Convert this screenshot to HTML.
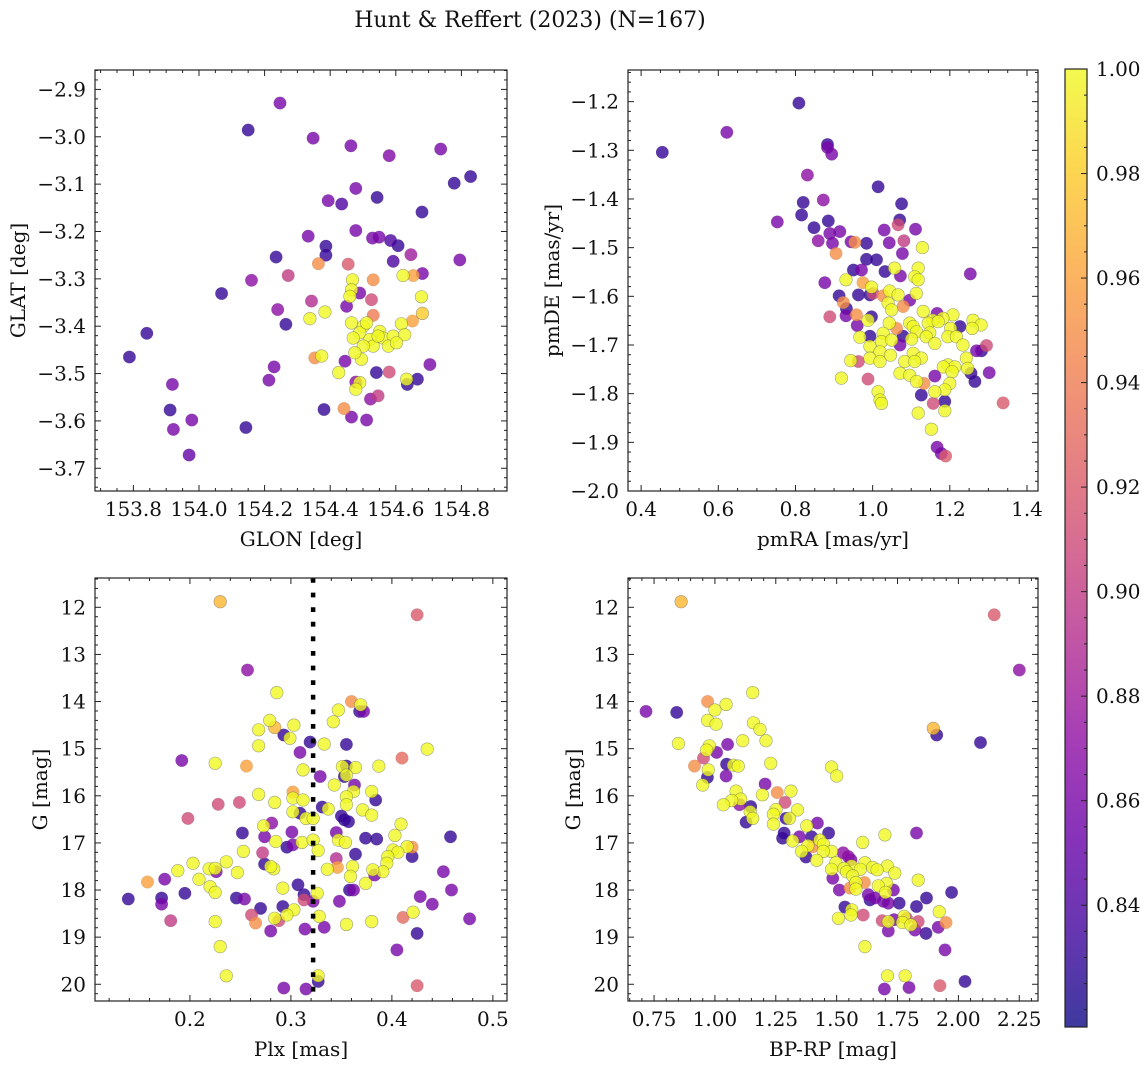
<!DOCTYPE html>
<html><head><meta charset="utf-8"><title>Hunt & Reffert (2023)</title>
<style>
html,body{margin:0;padding:0;background:#fff;}
svg{display:block;font-family:"DejaVu Serif","Liberation Serif",serif;}
</style></head>
<body>
<svg id="fig" width="1148" height="1068" viewBox="0 0 1148 1068" xmlns="http://www.w3.org/2000/svg">
<rect width="1148" height="1068" fill="#fff"/>
<text x="530" y="27" font-size="22" text-anchor="middle" fill="#111">Hunt &amp; Reffert (2023) (N=167)</text>
<defs>
<linearGradient id="plasmaGrad" x1="0" y1="1" x2="0" y2="0">
<stop offset="0" stop-color="#0d0887"/><stop offset="0.1" stop-color="#41049d"/><stop offset="0.2" stop-color="#6a00a8"/><stop offset="0.3" stop-color="#8f0da4"/><stop offset="0.4" stop-color="#b12a90"/><stop offset="0.5" stop-color="#cc4778"/><stop offset="0.6" stop-color="#e16462"/><stop offset="0.7" stop-color="#f2844b"/><stop offset="0.8" stop-color="#fca636"/><stop offset="0.9" stop-color="#fcce25"/><stop offset="1" stop-color="#f0f921"/>
</linearGradient>
</defs>
</svg>
<script>
// ---------- Panel 1: GLON / GLAT ----------
const p1Glon = [154.247,154.150,154.348,154.463,154.580,154.737,154.778,154.828,154.478,154.394,154.435,154.543,154.680,154.333,154.478,154.529,154.549,154.584,154.607,154.387,154.387,154.235,154.646,154.592,154.795,154.364,154.455,154.272,154.160,154.622,154.653,154.681,154.531,154.468,154.465,154.069,154.490,154.460,154.678,154.343,154.526,154.240,154.384,154.450,154.338,154.681,154.651,154.531,154.265,154.617,154.465,154.501,154.490,154.470,154.521,154.551,154.561,154.592,154.627,154.577,154.602,154.531,154.501,154.495,154.475,154.511,154.546,153.841,153.788,154.704,154.229,154.353,154.374,154.445,154.426,154.541,154.580,154.213,154.633,154.635,154.666,154.478,154.490,154.478,153.919,154.523,154.546,153.912,154.381,154.442,153.978,153.922,154.465,154.511,154.143,153.970];
const p1Glat = [-2.929,-2.986,-3.003,-3.019,-3.040,-3.026,-3.098,-3.084,-3.109,-3.135,-3.142,-3.128,-3.159,-3.210,-3.198,-3.214,-3.212,-3.219,-3.230,-3.231,-3.250,-3.254,-3.249,-3.263,-3.260,-3.268,-3.269,-3.293,-3.303,-3.293,-3.293,-3.289,-3.302,-3.302,-3.323,-3.331,-3.330,-3.337,-3.338,-3.347,-3.344,-3.365,-3.370,-3.358,-3.384,-3.373,-3.389,-3.377,-3.396,-3.395,-3.393,-3.400,-3.414,-3.425,-3.428,-3.411,-3.425,-3.421,-3.418,-3.442,-3.435,-3.442,-3.442,-3.470,-3.456,-3.393,-3.421,-3.415,-3.465,-3.481,-3.486,-3.467,-3.463,-3.474,-3.498,-3.498,-3.497,-3.514,-3.512,-3.523,-3.512,-3.518,-3.519,-3.533,-3.523,-3.554,-3.547,-3.577,-3.576,-3.574,-3.598,-3.618,-3.592,-3.598,-3.614,-3.672];
const p1Prob = [0.86,0.83,0.86,0.86,0.865,0.86,0.83,0.83,0.86,0.86,0.84,0.83,0.83,0.86,0.86,0.86,0.86,0.84,0.83,0.83,0.83,0.83,0.88,0.84,0.86,0.95,0.92,0.90,0.87,1,0.96,0.86,0.95,1,1,0.83,0.86,1,1,0.89,0.91,0.87,1,0.86,1,0.98,0.96,0.94,0.83,1,1,1,1,1,1,1,1,1,1,1,1,1,1,1,1,1,1,0.83,0.83,0.86,0.86,0.95,1,0.86,1,0.83,0.91,0.86,1,0.83,0.83,0.87,1,1,0.86,0.87,0.90,0.83,0.83,0.95,0.86,0.86,0.86,0.86,0.83,0.85];
const p1XTicks = [153.8,154.0,154.2,154.4,154.6,154.8];
const p1YTicks = [-2.9,-3.0,-3.1,-3.2,-3.3,-3.4,-3.5,-3.6,-3.7];

// ---------- Panel 2: pmRA / pmDE ----------
const p2Pmra = [0.455,0.622,0.809,0.883,0.883,0.894,0.831,1.014,0.872,0.820,1.075,0.816,0.753,0.885,1.070,1.066,0.848,1.030,1.111,0.915,0.889,0.859,1.081,1.043,0.944,0.954,0.896,0.984,1.077,0.905,1.129,0.984,1.010,0.950,0.971,1.032,1.057,1.118,1.072,1.253,0.876,0.931,0.975,1.109,1.118,0.997,0.913,0.963,0.993,1.001,1.027,1.044,1.066,1.096,1.113,0.924,0.932,1.040,1.079,1.131,0.931,0.889,0.958,0.997,1.049,1.167,1.208,1.182,1.156,0.988,1.043,1.096,1.144,1.170,1.226,1.202,1.260,1.281,1.258,0.960,1.062,1.105,1.114,1.148,1.195,1.217,0.967,0.993,1.027,1.079,1.139,1.161,1.234,1.023,1.049,1.071,1.101,1.269,1.282,1.295,0.993,1.019,1.046,1.105,1.126,0.993,1.019,1.243,0.943,0.963,1.083,1.109,1.195,1.213,1.183,1.246,1.255,1.302,1.206,1.071,1.096,1.265,1.161,0.919,0.988,1.114,1.133,1.200,1.187,1.161,1.014,1.019,1.023,1.126,1.187,1.157,1.338,1.118,1.187,1.152,1.167,1.178,1.189];
const p2Pmde = [-1.304,-1.263,-1.203,-1.288,-1.294,-1.308,-1.351,-1.375,-1.402,-1.407,-1.410,-1.433,-1.447,-1.445,-1.443,-1.453,-1.459,-1.464,-1.462,-1.467,-1.471,-1.486,-1.486,-1.490,-1.488,-1.489,-1.491,-1.491,-1.512,-1.512,-1.500,-1.524,-1.525,-1.546,-1.546,-1.549,-1.542,-1.542,-1.558,-1.554,-1.572,-1.566,-1.572,-1.560,-1.566,-1.581,-1.599,-1.597,-1.597,-1.594,-1.599,-1.589,-1.597,-1.608,-1.594,-1.613,-1.625,-1.614,-1.621,-1.631,-1.640,-1.642,-1.638,-1.642,-1.628,-1.635,-1.638,-1.645,-1.649,-1.649,-1.655,-1.655,-1.655,-1.652,-1.662,-1.666,-1.649,-1.659,-1.666,-1.660,-1.666,-1.662,-1.673,-1.675,-1.683,-1.683,-1.684,-1.682,-1.676,-1.682,-1.683,-1.697,-1.700,-1.693,-1.690,-1.700,-1.688,-1.712,-1.712,-1.701,-1.703,-1.714,-1.721,-1.717,-1.727,-1.727,-1.734,-1.727,-1.732,-1.734,-1.734,-1.734,-1.741,-1.745,-1.745,-1.748,-1.758,-1.757,-1.755,-1.758,-1.762,-1.775,-1.764,-1.768,-1.770,-1.775,-1.779,-1.779,-1.792,-1.796,-1.796,-1.813,-1.820,-1.803,-1.816,-1.820,-1.819,-1.840,-1.835,-1.873,-1.910,-1.923,-1.928];
const p2Prob = [0.83,0.86,0.83,0.83,0.86,0.86,0.87,0.83,0.87,0.83,0.83,0.83,0.86,0.83,0.83,0.91,0.83,0.86,0.86,0.86,0.86,0.87,0.90,0.86,0.86,0.95,0.86,0.83,0.86,0.95,1,0.83,0.83,0.83,0.86,0.83,1,1,0.86,0.86,0.86,1,0.96,1,1,1,0.83,0.83,0.83,0.91,0.95,1,1,0.86,1,0.95,0.83,1,0.95,1,0.86,0.91,0.95,0.83,1,0.86,1,1,1,1,1,1,1,1,0.83,1,1,1,1,0.86,0.95,1,1,1,1,1,1,0.83,1,0.83,1,1,1,1,1,0.86,1,0.86,0.83,0.91,1,1,1,1,1,1,1,1,1,0.91,1,1,1,1,1,1,0.83,0.86,1,1,1,0.83,0.86,1,0.91,1,0.95,1,1,1,1,1,1,0.83,0.83,0.91,0.92,1,1,1,0.86,0.86,0.92];
const p2XTicks = [0.4,0.6,0.8,1.0,1.2,1.4];
const p2YTicks = [-1.2,-1.3,-1.4,-1.5,-1.6,-1.7,-1.8,-1.9,-2.0];

// ---------- Panel 3: Plx / G ----------
const p3Plx = [0.230,0.425,0.257,0.286,0.360,0.369,0.368,0.372,0.347,0.279,0.284,0.342,0.268,0.303,0.293,0.299,0.268,0.319,0.333,0.355,0.309,0.435,0.192,0.225,0.410,0.256,0.312,0.355,0.351,0.364,0.387,0.329,0.353,0.355,0.363,0.343,0.362,0.380,0.302,0.268,0.302,0.312,0.384,0.355,0.355,0.228,0.249,0.284,0.331,0.337,0.371,0.380,0.302,0.309,0.315,0.322,0.350,0.353,0.357,0.198,0.281,0.273,0.409,0.252,0.345,0.301,0.274,0.403,0.458,0.374,0.385,0.285,0.311,0.322,0.347,0.354,0.296,0.302,0.420,0.415,0.401,0.406,0.253,0.327,0.272,0.364,0.420,0.345,0.396,0.203,0.236,0.274,0.395,0.361,0.346,0.336,0.283,0.280,0.188,0.219,0.225,0.226,0.247,0.391,0.381,0.383,0.359,0.451,0.209,0.175,0.158,0.374,0.307,0.220,0.292,0.362,0.358,0.459,0.195,0.225,0.313,0.326,0.139,0.172,0.172,0.246,0.254,0.313,0.322,0.348,0.428,0.440,0.292,0.303,0.270,0.421,0.261,0.296,0.328,0.411,0.477,0.284,0.288,0.265,0.181,0.225,0.355,0.380,0.333,0.314,0.280,0.425,0.230,0.405,0.236,0.327,0.327,0.293,0.315,0.425];
const p3G = [11.88,12.16,13.33,13.81,14.00,14.07,14.21,14.21,14.18,14.40,14.55,14.43,14.60,14.50,14.71,14.78,14.94,14.86,14.90,14.91,15.08,15.01,15.25,15.31,15.20,15.37,15.45,15.37,15.38,15.40,15.37,15.59,15.59,15.56,15.77,15.77,15.91,15.91,15.92,15.97,16.05,16.09,16.09,16.02,16.19,16.18,16.14,16.14,16.24,16.28,16.30,16.41,16.34,16.37,16.48,16.48,16.43,16.51,16.55,16.48,16.58,16.64,16.60,16.79,16.78,16.77,16.87,16.84,16.87,16.90,16.92,16.97,16.99,16.94,16.94,16.99,17.09,17.04,17.09,17.08,17.15,17.20,17.18,17.16,17.21,17.24,17.29,17.33,17.29,17.43,17.40,17.45,17.43,17.50,17.52,17.56,17.55,17.50,17.59,17.55,17.54,17.61,17.63,17.61,17.57,17.68,17.71,17.61,17.77,17.77,17.83,17.86,17.89,17.93,17.96,18.00,18.00,18.00,18.07,18.05,18.10,18.07,18.19,18.17,18.30,18.17,18.19,18.21,18.24,18.24,18.14,18.30,18.35,18.42,18.39,18.47,18.53,18.53,18.56,18.58,18.61,18.60,18.65,18.70,18.65,18.67,18.73,18.67,18.79,18.83,18.87,18.92,19.20,19.27,19.82,19.82,19.94,20.08,20.10,20.03];
const p3Prob = [0.97,0.92,0.87,1,0.95,1,0.83,0.86,1,1,0.97,1,1,1,0.83,1,1,0.83,1,0.83,0.86,1,0.86,1,0.93,0.96,1,0.83,1,1,1,0.86,0.83,1,0.86,1,1,1,0.96,1,1,1,0.83,1,1,0.91,0.91,1,0.83,1,1,1,1,0.83,1,1,0.83,0.83,0.83,0.91,0.87,1,1,0.83,0.86,0.86,0.86,1,0.83,0.83,0.83,1,1,1,1,1,0.83,0.86,0.95,1,1,1,1,1,0.90,0.83,0.83,0.89,1,1,1,0.83,1,1,0.96,1,1,1,1,1,1,0.86,1,1,1,0.86,1,0.86,1,0.86,0.96,1,0.83,1,1,0.86,0.83,0.86,0.83,1,0.83,1,0.83,0.83,0.86,0.83,0.86,0.91,0.86,0.86,0.86,0.86,0.83,1,0.83,1,0.91,1,1,0.93,0.86,1,0.91,0.95,0.90,1,1,1,0.86,0.86,0.86,0.83,1,0.86,1,1,0.83,0.86,0.86,0.92];
const p3XTicks = [0.2,0.3,0.4,0.5];
const p3YTicks = [12,13,14,15,16,17,18,19,20];
const p3Cutoff = [0.322];

// ---------- Panel 4: BP-RP / G ----------
const p4Bprp = [0.861,2.147,2.250,0.717,0.843,0.970,1.046,1.155,1.000,0.970,1.005,1.158,1.185,1.897,1.911,0.850,1.210,1.114,1.052,2.091,0.977,0.966,1.007,0.953,0.916,1.229,1.479,1.500,1.048,1.076,1.096,0.973,0.969,1.046,0.950,1.206,1.087,1.312,1.256,1.195,1.288,1.106,1.069,1.035,1.101,1.147,1.251,1.339,1.145,1.240,1.292,1.306,1.155,1.128,1.421,1.240,1.377,1.828,1.467,1.698,1.284,1.278,1.347,1.397,1.431,1.607,1.319,1.382,1.402,1.446,1.479,1.356,1.527,1.548,1.445,1.374,1.418,1.559,1.616,1.497,1.561,1.708,1.597,1.530,1.648,1.666,1.479,1.541,1.739,1.484,1.566,1.579,1.614,1.835,1.705,1.671,1.555,1.511,1.579,1.733,1.701,1.972,1.630,1.637,1.657,1.692,1.712,1.757,1.869,1.828,1.534,1.562,1.559,1.609,1.507,1.777,1.787,1.687,1.736,1.712,1.770,1.805,1.835,1.921,1.949,1.917,1.822,1.867,1.712,1.945,1.616,1.709,1.781,2.027,1.696,1.797,1.924];
const p4G = [11.88,12.16,13.33,14.21,14.23,14.00,14.06,13.81,14.18,14.40,14.48,14.45,14.59,14.57,14.71,14.89,14.83,14.83,14.91,14.87,14.94,15.03,15.08,15.20,15.37,15.31,15.39,15.58,15.33,15.35,15.37,15.45,15.61,15.58,15.77,15.75,15.90,15.90,15.93,15.98,16.14,16.07,16.10,16.19,16.19,16.23,16.29,16.30,16.34,16.39,16.48,16.48,16.48,16.56,16.58,16.60,16.64,16.79,16.79,16.83,16.79,16.90,16.87,16.87,16.94,16.99,16.96,17.06,17.08,17.03,17.18,17.18,17.21,17.29,17.18,17.30,17.37,17.36,17.42,17.42,17.49,17.49,17.56,17.54,17.52,17.57,17.56,17.61,17.64,17.75,17.70,17.84,17.84,17.79,17.86,17.91,17.96,18.00,17.98,18.00,18.05,18.05,18.10,18.21,18.17,18.24,18.28,18.28,18.17,18.35,18.36,18.42,18.53,18.53,18.60,18.56,18.60,18.65,18.63,18.67,18.69,18.74,18.67,18.46,18.69,18.79,18.85,18.92,18.87,19.27,19.20,19.82,19.82,19.94,20.10,20.07,20.03];
const p4Prob = [0.97,0.92,0.87,0.86,0.83,0.95,1,1,1,1,1,1,1,0.97,0.83,1,1,1,0.86,0.83,1,1,0.86,0.91,0.95,1,1,1,0.83,1,1,1,0.83,0.86,1,0.86,1,1,0.95,1,0.91,1,1,1,0.87,0.83,1,1,1,1,0.83,1,1,0.83,0.86,1,1,0.86,0.83,1,0.83,0.83,0.86,0.83,1,1,1,1,0.95,1,1,1,0.87,0.87,1,0.83,1,0.86,1,1,1,1,1,1,1,1,1,1,1,0.86,1,1,0.95,1,1,1,0.95,0.86,1,0.86,1,0.83,0.86,0.83,0.86,0.86,0.86,0.83,0.83,0.83,0.83,1,1,0.91,1,1,0.91,0.91,0.86,1,1,1,0.91,1,0.95,0.86,0.86,0.83,0.86,0.86,1,1,1,0.83,0.86,0.86,0.92];
const p4XTicks = [0.75,1.00,1.25,1.50,1.75,2.00,2.25];
const p4YTicks = [12,13,14,15,16,17,18,19,20];

// ---------- Colorbar ----------
const cbTicks = [1.00,0.98,0.96,0.94,0.92,0.90,0.88,0.86,0.84];
const cbRange = [0.8167, 1.0];

const NS = 'http://www.w3.org/2000/svg';
const svg = document.getElementById('fig');
const stops = [[13,8,135],[65,4,157],[106,0,168],[143,13,164],[177,42,144],[204,71,120],[225,100,98],[242,132,75],[252,166,54],[252,206,37],[240,249,33]];
function plasma(t){
  t = Math.max(0, Math.min(1, t));
  const f = t * 10, i = Math.min(9, Math.floor(f)), r = f - i;
  const a = stops[i], b = stops[i+1];
  return 'rgb(' + [0,1,2].map(k => Math.round(a[k] + (b[k]-a[k])*r)).join(',') + ')';
}
function mk(tag, attrs, parent){
  const e = document.createElementNS(NS, tag);
  for (const k in attrs) e.setAttribute(k, attrs[k]);
  (parent || svg).appendChild(e);
  return e;
}
function fmt(v, d){ return (v < 0 ? '\u2212' : '') + Math.abs(v).toFixed(d); }
const TICK_FS = 20, LABEL_FS = 20;

function panel(cfg){
  const g = mk('g', {});
  
  
  const L = cfg.box[0], T = cfg.box[1], R = cfg.box[2], B = cfg.box[3];
  const sx = v => L + (v - cfg.xd[0]) / (cfg.xd[1] - cfg.xd[0]) * (R - L);
  const sy = cfg.yInv ? (v => T + (v - cfg.yd[0]) / (cfg.yd[1] - cfg.yd[0]) * (B - T))
                      : (v => B - (v - cfg.yd[0]) / (cfg.yd[1] - cfg.yd[0]) * (B - T));
  const idx = cfg.xs.map((_, i) => i).sort((a, b) => cfg.ps[a] - cfg.ps[b]);
  const pg = mk('g', {}, g);
  
  
  idx.forEach(i => {
    const t = (cfg.ps[i] - cbRange[0]) / (cbRange[1] - cbRange[0]);
    const c = mk('circle', {cx: sx(cfg.xs[i]).toFixed(1), cy: sy(cfg.ys[i]).toFixed(1), r: 6.3, fill: plasma(t), 'fill-opacity': 0.8, stroke: 'rgba(90,90,90,0.55)', 'stroke-width': t > 0.8 ? 0.6 : 0.2}, pg);
    
    
  });
  if (cfg.vline) {
    const vl = mk('line', {x1: sx(cfg.vline[0]), x2: sx(cfg.vline[0]), y1: T, y2: B, stroke: '#000', 'stroke-width': 4.5, 'stroke-dasharray': '4.8,9.8'}, g);
    
    
  }
  const fr = mk('rect', {x: L, y: T, width: R - L, height: B - T, fill: 'none', stroke: '#222', 'stroke-width': 1.2}, g);
  
  
  const tg = mk('g', {stroke: '#222', 'stroke-width': 1}, g);
  const eps = 1e-9;
  for (let v = Math.ceil(cfg.xd[0] / cfg.xMinor - eps) * cfg.xMinor; v <= cfg.xd[1] + eps; v += cfg.xMinor) {
    const x = sx(v);
    const major = cfg.xTicks.some(t => Math.abs(t - v) < cfg.xMinor / 3);
    const len = major ? 6 : 3;
    mk('line', {x1: x, x2: x, y1: B, y2: B - len}, tg);
    mk('line', {x1: x, x2: x, y1: T, y2: T + len}, tg);
  }
  for (let v = Math.ceil(cfg.yd[0] / cfg.yMinor - eps) * cfg.yMinor; v <= cfg.yd[1] + eps; v += cfg.yMinor) {
    const y = sy(v);
    const major = cfg.yTicks.some(t => Math.abs(t - v) < cfg.yMinor / 3);
    const len = major ? 6 : 3;
    mk('line', {x1: L, x2: L + len, y1: y, y2: y}, tg);
    mk('line', {x1: R, x2: R - len, y1: y, y2: y}, tg);
  }
  cfg.xTicks.forEach(v => {
    const t = mk('text', {x: sx(v), y: B + 25, 'font-size': TICK_FS, 'text-anchor': 'middle', fill: '#111'}, g);
    t.textContent = fmt(v, cfg.xDec);
    
    
  });
  cfg.yTicks.forEach(v => {
    const t = mk('text', {x: L - 9, y: sy(v) + 7, 'font-size': TICK_FS, 'text-anchor': 'end', fill: '#111'}, g);
    t.textContent = fmt(v, cfg.yDec);
    
    
  });
  const xl = mk('text', {x: (L + R) / 2, y: B + 55, 'font-size': LABEL_FS, 'text-anchor': 'middle', fill: '#111'}, g);
  xl.textContent = cfg.xLabel;
  
  
  const yl = mk('text', {x: 0, y: 0, 'font-size': LABEL_FS, 'text-anchor': 'middle', fill: '#111', transform: 'translate(' + cfg.yLabelX + ',' + ((T + B) / 2) + ') rotate(-90)'}, g);
  yl.textContent = cfg.yLabel;
  
  
}

panel({name: 'glon-glat-panel', box: [95, 70, 507, 491], xd: [153.683, 154.939], yd: [-3.748, -2.859], xs: p1Glon, ys: p1Glat, ps: p1Prob, xTicks: p1XTicks, yTicks: p1YTicks, xMinor: 0.05, yMinor: 0.02, xDec: 1, yDec: 1, xLabel: 'GLON [deg]', yLabel: 'GLAT [deg]', yLabelX: 25});
panel({name: 'proper-motion-panel', box: [628, 70, 1038, 491], xd: [0.366, 1.4285], yd: [-2.0, -1.135], xs: p2Pmra, ys: p2Pmde, ps: p2Prob, xTicks: p2XTicks, yTicks: p2YTicks, xMinor: 0.05, yMinor: 0.02, xDec: 1, yDec: 1, xLabel: 'pmRA [mas/yr]', yLabel: 'pmDE [mas/yr]', yLabelX: 559});
panel({name: 'parallax-mag-panel', box: [95, 578, 507, 1001], xd: [0.106, 0.514], yd: [11.378, 20.355], yInv: true, xs: p3Plx, ys: p3G, ps: p3Prob, xTicks: p3XTicks, yTicks: p3YTicks, xMinor: 0.02, yMinor: 0.2, xDec: 1, yDec: 0, xLabel: 'Plx [mas]', yLabel: 'G [mag]', yLabelX: 47, vline: p3Cutoff});
panel({name: 'cmd-panel', box: [628, 578, 1038, 1001], xd: [0.643, 2.327], yd: [11.378, 20.355], yInv: true, xs: p4Bprp, ys: p4G, ps: p4Prob, xTicks: p4XTicks, yTicks: p4YTicks, xMinor: 0.05, yMinor: 0.2, xDec: 2, yDec: 0, xLabel: 'BP-RP [mag]', yLabel: 'G [mag]', yLabelX: 580});

(function(){
  const g = mk('g', {});
  
  
  const L = 1065, R = 1087, T = 69, B = 1027;
  mk('rect', {x: L, y: T, width: R - L, height: B - T, fill: 'url(#plasmaGrad)', 'fill-opacity': 0.8}, g);
  mk('rect', {x: L, y: T, width: R - L, height: B - T, fill: 'none', stroke: '#222', 'stroke-width': 1.2}, g);
  const sy = v => B - (v - cbRange[0]) / (cbRange[1] - cbRange[0]) * (B - T);
  for (let k = Math.ceil(cbRange[0] / 0.005); k * 0.005 <= cbRange[1] + 1e-9; k++) {
    const v = k * 0.005, y = sy(v);
    const major = cbTicks.some(t => Math.abs(t - v) < 0.001);
    mk('line', {x1: R, x2: R - (major ? 6 : 3), y1: y, y2: y, stroke: '#222', 'stroke-width': 1}, g);
  }
  cbTicks.forEach(v => {
    const t = mk('text', {x: R + 9, y: sy(v) + 7, 'font-size': TICK_FS, fill: '#111'}, g);
    t.textContent = v.toFixed(2);
    
    
  });
})();
</script>
</body></html>
